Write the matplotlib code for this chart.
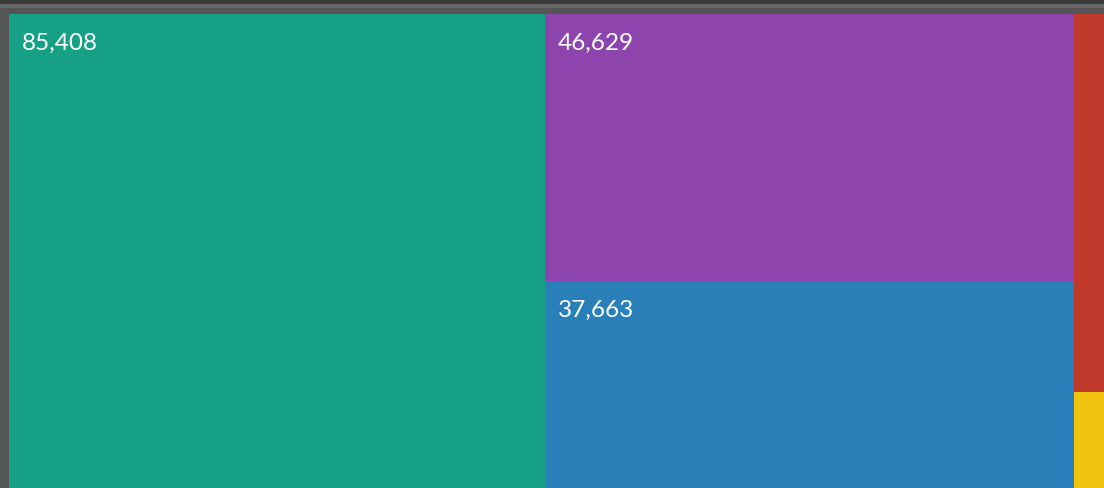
import matplotlib.pyplot as plt
from matplotlib.patches import Rectangle

# treemap values (red/yellow estimated from their size, no labels shown)
labels = ["85,408", "46,629", "37,663", "", ""]
values = [85408, 46629, 37663, 3740, 1040]
colors = ["#16a085", "#8e44ad", "#2980b9", "#c0392b", "#f1c40f"]
# which column each box sits in
columns = [[0], [1, 2], [3, 4]]

fig = plt.figure(figsize=(11.04, 4.88), dpi=100)
fig.patch.set_facecolor("#555555")
ax = fig.add_axes([0, 0, 1, 1])
ax.set_xlim(0, 1104)
ax.set_ylim(488, 0)
ax.axis("off")

# frame strips at the top
ax.add_patch(Rectangle((0, 0), 1104, 4, color="#3a3a3a", lw=0))
ax.add_patch(Rectangle((0, 4), 1104, 4, color="#686868", lw=0))

# plot area (bottom is cut off by the screenshot)
x0, y0, W, H = 9, 14, 1095, 483
total = sum(values)

x = x0
for col in columns:
    col_sum = sum(values[i] for i in col)
    w = W * col_sum / total
    y = y0
    for i in col:
        h = H * values[i] / col_sum
        ax.add_patch(Rectangle((x, y), w, h, facecolor=colors[i], lw=0))
        if labels[i]:
            ax.text(x + 13, y + 18.5, labels[i], color="white", fontsize=17.6,
                    family="Lato", va="top", ha="left")
        y += h
    x += w

fig.savefig("out.png", dpi=100, facecolor=fig.get_facecolor())
